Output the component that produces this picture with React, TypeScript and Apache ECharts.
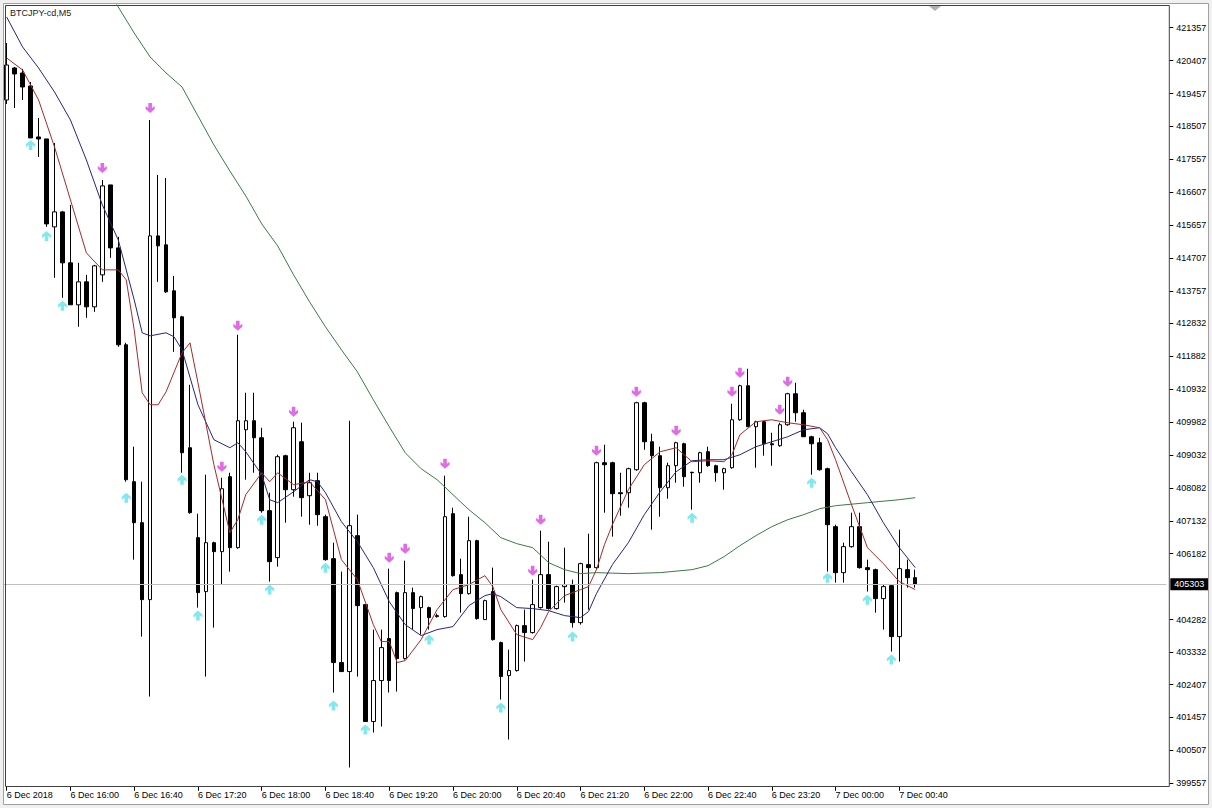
import React, { useEffect, useRef } from "react";
import * as echarts from "echarts";

// OHLC per 5-minute bar, starting 6 Dec 2018 15:20
const opens = [
  419272, 420195, 420050, 419676, 418205, 418148, 415611, 416043, 414573, 413362,
  414025, 413304, 414227, 416821, 415005, 412209, 408259, 407077, 404857, 415351,
  415092, 413765, 413016, 409239, 406644, 405088, 406500, 406241, 408403, 406356,
  409758, 410018, 409527, 407423, 406068, 409009, 408028, 409412, 407855, 408288,
  407250, 406039, 403041, 402781, 406702, 404713, 401340, 402522, 403733, 405059,
  403156, 405059, 404626, 404626, 404367, 404367, 407336, 405578, 405030, 406558,
  404280, 405088, 403617, 402666, 402810, 404107, 403906, 404626, 405578, 404598,
  405232, 405289, 404194, 405866, 405780, 408807, 408807, 407942, 407942, 408605,
  410537, 409412, 409009, 408086, 408720, 409354, 408530, 408518, 409124, 408720,
  408518, 408663, 410046, 411027, 409845, 409989, 409354, 409297, 409902, 410796,
  410248, 409556, 409383, 408634, 406962, 405635, 406385, 406962, 405780, 405722,
  404886, 405261, 403790, 405722, 405491,
];
const closes = [
  420281, 420022, 419647, 418177, 418148, 415697, 416043, 414573, 413362, 414025,
  413304, 414486, 416793, 415005, 412209, 408317, 407077, 404857, 415351, 415063,
  413737, 412987, 409095, 407365, 405059, 406500, 406241, 408057, 406356, 410018,
  410018, 409527, 407423, 405953, 408980, 408028, 409816, 407798, 408230, 407308,
  406010, 403041, 402781, 406990, 404684, 401340, 402522, 403473, 402522, 403156,
  405059, 404598, 404943, 404338, 404396, 407250, 405549, 405030, 406558, 404309,
  404828, 403704, 402637, 402810, 404107, 403906, 404713, 405578, 404598, 405232,
  405289, 404194, 405895, 405780, 408807, 408749, 407913, 407913, 408634, 410537,
  409412, 409009, 408086, 408720, 409383, 408403, 408518, 409095, 408720, 408518,
  408634, 410046, 411027, 409845, 409989, 409354, 409326, 409902, 410796, 410248,
  409556, 409354, 408605, 407019, 405635, 406385, 406962, 405780, 405722, 404886,
  405232, 403790, 405751, 405491, 405303,
];
const lows = [
  419157, 419041, 419272, 418177, 417629, 415611, 414140, 413564, 413362, 412728,
  412987, 413160, 414025, 414717, 412151, 408259, 406010, 403790, 402060, 414025,
  413708, 412007, 408518, 407336, 404626, 402637, 404050, 405289, 405664, 406327,
  408317, 408518, 407365, 405376, 405808, 407077, 407826, 407250, 407019, 406990,
  405981, 402176, 402781, 400014, 402637, 401340, 401023, 401196, 402176, 402205,
  403127, 403992, 403848, 403992, 404338, 404338, 405520, 404482, 405001, 404280,
  404280, 403675, 401974, 400821, 402781, 403070, 403877, 404598, 404569, 404569,
  404771, 404050, 404136, 404569, 405722, 407365, 406673, 407279, 407509, 408576,
  409181, 406875, 407250, 407769, 408230, 408115, 407452, 408230, 408691, 408259,
  408028, 408634, 410018, 409845, 408663, 409009, 408720, 409268, 409873, 409989,
  409556, 408461, 408576, 405664, 405347, 405347, 406356, 405751, 405088, 404482,
  403992, 403358, 403070, 405203, 405203,
];
const highs = [
  420915, 420223, 420166, 419791, 418753, 418148, 418032, 416072, 416245, 414573,
  414227, 414515, 416966, 416821, 415322, 412266, 409268, 408259, 418695, 417110,
  417023, 414198, 413045, 411055, 407336, 408461, 406529, 408374, 408518, 412497,
  410825, 410825, 409816, 407942, 409037, 409037, 409989, 409960, 408518, 408518,
  407308, 406500, 405664, 410018, 407308, 404713, 403992, 403992, 405751, 405088,
  405981, 405203, 404972, 404655, 404453, 408432, 407509, 406039, 407250, 406587,
  404857, 405780, 403646, 403415, 404136, 404569, 405434, 406846, 406529, 405261,
  406356, 405434, 405924, 406760, 408836, 409326, 408836, 408518, 408663, 410565,
  410565, 409643, 409268, 408807, 409412, 409383, 408547, 409124, 409268, 408749,
  408663, 410508, 411056, 411517, 410018, 410018, 409672, 409960, 410825, 411113,
  410335, 409585, 409527, 408663, 407019, 406500, 407365, 407365, 406010, 405751,
  405289, 405289, 406875, 406010, 405722,
];

// moving averages: [bar index, price]
const maFast = [
  [0, 420483], [2, 420137], [4, 419272], [6, 417917], [8, 416389], [10, 414861],
  [12, 414371], [14, 414371], [15, 414083], [16, 412641], [17, 410825], [18, 410479],
  [19, 410479], [20, 410854], [22, 411978], [23, 412266], [24, 411113], [26, 408749],
  [28, 406789], [29, 407164], [30, 407884], [32, 408518], [33, 408259], [34, 408518],
  [36, 408172], [38, 408259], [40, 407740], [41, 406875], [42, 406010], [44, 405434],
  [46, 404136], [47, 403646], [48, 403646], [49, 403041], [50, 403098], [52, 403704],
  [54, 404569], [56, 405146], [58, 405289], [60, 405549], [61, 405232], [62, 404569],
  [64, 403848], [66, 403704], [67, 404050], [68, 404511], [70, 404972], [72, 405146],
  [73, 405232], [74, 405722], [75, 406442], [76, 407019], [78, 408028], [80, 408749],
  [82, 409124], [84, 409239], [86, 408836], [88, 408864], [90, 408836], [91, 409037],
  [92, 409614], [94, 409989], [96, 410046], [98, 409960], [100, 409902], [102, 409816],
  [103, 409470], [104, 408893], [106, 407596], [108, 406356], [110, 405895], [112, 405376],
  [114, 405146],
];
const maMid = [
  [0, 421665], [2, 420800], [4, 420195], [6, 419503], [8, 418695], [10, 417542],
  [12, 416245], [14, 415236], [16, 413506], [17, 412555], [18, 412468], [20, 412555],
  [21, 412439], [22, 412065], [24, 410479], [26, 409470], [28, 409239], [29, 409383],
  [30, 409124], [32, 408461], [33, 407740], [34, 407654], [36, 407970], [38, 408317],
  [39, 408259], [40, 407942], [42, 407106], [44, 406529], [46, 405780], [48, 404799],
  [50, 404136], [52, 403819], [54, 403992], [56, 404079], [58, 404684], [60, 404972],
  [61, 405030], [62, 404943], [64, 404626], [66, 404598], [68, 404540], [70, 404396],
  [72, 404338], [73, 404511], [74, 405030], [76, 405866], [78, 406500], [80, 407308],
  [82, 407970], [84, 408547], [86, 408864], [88, 408893], [90, 408893], [92, 409037],
  [94, 409268], [96, 409412], [98, 409556], [100, 409758], [102, 409816], [103, 409643],
  [104, 409239], [106, 408547], [108, 407884], [110, 407077], [112, 406356], [114, 405780],
];
const maSlow = [
  [12, 422703], [14, 421953], [16, 421204], [18, 420512], [20, 420051], [22, 419647],
  [24, 418811], [26, 417975], [28, 417225], [30, 416504], [32, 415697], [34, 415063],
  [36, 414227], [38, 413449], [40, 412728], [42, 412065], [44, 411430], [46, 410623],
  [48, 409845], [50, 409095], [52, 408634], [54, 408317], [56, 407884], [58, 407452],
  [60, 407077], [62, 406645], [64, 406472], [66, 406356], [68, 405924], [70, 405722],
  [72, 405607], [74, 405636], [78, 405607], [82, 405636], [86, 405722], [88, 405837],
  [90, 406096], [92, 406414], [94, 406702], [96, 406962], [98, 407163], [100, 407308],
  [102, 407481], [104, 407567], [108, 407654], [112, 407740], [114, 407798],
];

// signal arrows: [bar index, price]
const sellArrows = [
  [12, 417312], [18, 419041], [27, 408692], [29, 412756], [36, 410277], [48, 406068],
  [50, 406327], [55, 408778], [66, 405693], [67, 407164], [74, 409153], [79, 410854],
  [84, 409730], [91, 410854], [92, 411401], [97, 410335], [98, 411142],
];
const buyArrows = [
  [3, 417975], [5, 415351], [7, 413333], [15, 407798], [22, 408317], [24, 404396],
  [32, 407164], [33, 405146], [40, 405780], [41, 401801], [45, 401109], [53, 403704],
  [62, 401744], [71, 403790], [86, 407221], [101, 408230], [103, 405491], [108, 404857],
  [111, 403127],
];

const xTickLabels = [
  "6 Dec 2018", "6 Dec 16:00", "6 Dec 16:40", "6 Dec 17:20", "6 Dec 18:00",
  "6 Dec 18:40", "6 Dec 19:20", "6 Dec 20:00", "6 Dec 20:40", "6 Dec 21:20",
  "6 Dec 22:00", "6 Dec 22:40", "6 Dec 23:20", "7 Dec 00:00", "7 Dec 00:40",
];
const yTickValues = [
  421357, 420407, 419457, 418507, 417557, 416607, 415657, 414707, 413757, 412832,
  411882, 410932, 409982, 409032, 408082, 407132, 406182, 404282, 403332, 402407,
  401457, 400507, 399557,
];
const currentPrice = 405303;
const symbolName = "BTCJPY-cd,M5";

const SLOTS = 146;
const FONT = "'Liberation Sans', Arial, sans-serif";
const DOWN_ARROW = "path://M3,0 L7,0 L7,5 L10,3 L10,6 L5,10 L0,6 L0,3 L3,5 Z";
const UP_ARROW = "path://M5,0 L10,4 L10,7 L7,5 L7,10 L3,10 L3,5 L0,7 L0,4 Z";

export default function App() {
  const ref = useRef<HTMLDivElement>(null);
  useEffect(() => {
    const chart = echarts.init(ref.current!, null, { renderer: "svg" });
    const categories = Array.from({ length: SLOTS }, (_, i) => {
      const t = 15 * 60 + 20 + 5 * i;
      const h = Math.floor(t / 60) % 24;
      const m = t % 60;
      return `${String(h).padStart(2, "0")}:${String(m).padStart(2, "0")}`;
    });
    const candles = opens.map((o, i) => [o, closes[i], lows[i], highs[i]]);
    const showTick = (i: number) => i % 8 === 0 && i / 8 < xTickLabels.length;

    chart.setOption({
      animation: false,
      backgroundColor: "#ffffff",
      grid: { left: 2.7, top: 5, width: 1163.6, height: 781.7, containLabel: false },
      xAxis: {
        type: "category",
        data: categories,
        boundaryGap: true,
        axisLine: { show: false },
        axisTick: {
          show: true,
          alignWithLabel: true,
          interval: (i: number) => showTick(i),
          length: 4,
          lineStyle: { color: "#000" },
        },
        axisLabel: {
          interval: (i: number) => showTick(i),
          formatter: (_v: string, i: number) => xTickLabels[i / 8] ?? "",
          align: "left",
          margin: 4,
          fontSize: 9,
          color: "#000",
          fontFamily: FONT,
        },
        splitLine: { show: false },
      },
      yAxis: {
        type: "value",
        position: "right",
        offset: 3,
        min: 399460,
        max: 422012,
        axisLine: { show: false },
        axisTick: {
          show: true,
          customValues: yTickValues,
          length: 4,
          lineStyle: { color: "#000" },
        },
        axisLabel: {
          customValues: yTickValues,
          formatter: (v: number) => String(v),
          fontSize: 9,
          color: "#000",
          margin: 7,
          fontFamily: FONT,
        },
        splitLine: { show: false },
      },
      series: [
        {
          type: "candlestick",
          data: candles,
          barWidth: 4,
          z: 3,
          itemStyle: {
            color: "#ffffff",
            color0: "#000000",
            borderColor: "#000000",
            borderColor0: "#000000",
            borderWidth: 1,
          },
          markLine: {
            silent: true,
            symbol: ["none", "none"],
            data: [{ yAxis: currentPrice }],
            lineStyle: { color: "#c0c0c0", width: 1, type: "solid" },
            label: {
              show: true,
              position: "end",
              distance: 4,
              formatter: String(currentPrice),
              backgroundColor: "#000",
              color: "#fff",
              padding: [2, 4, 1, 4],
              fontSize: 9,
              fontFamily: FONT,
            },
          },
        },
        {
          type: "line",
          data: maSlow,
          symbol: "none",
          z: 4,
          lineStyle: { color: "#3d7a45", width: 1 },
        },
        {
          type: "line",
          data: maMid,
          symbol: "none",
          z: 4,
          lineStyle: { color: "#25257d", width: 1 },
        },
        {
          type: "line",
          data: maFast,
          symbol: "none",
          z: 4,
          lineStyle: { color: "#a52a2a", width: 1 },
        },
        {
          type: "scatter",
          data: sellArrows,
          symbol: DOWN_ARROW,
          symbolSize: [9, 10],
          z: 5,
          itemStyle: { color: "#d946e1" },
        },
        {
          type: "scatter",
          data: buyArrows,
          symbol: UP_ARROW,
          symbolSize: [9, 10],
          z: 5,
          itemStyle: { color: "#62e4ea" },
        },
      ],
      graphic: [
        {
          type: "rect",
          z: 20,
          silent: true,
          shape: { x: 0, y: 0, width: 1212, height: 808 },
          style: { fill: "none", stroke: "#f0f0f0", lineWidth: 7 },
        },
        {
          type: "rect",
          z: 20,
          silent: true,
          shape: { x: 3.5, y: 3.5, width: 1205, height: 801 },
          style: { fill: "none", stroke: "#a0a0a0", lineWidth: 1 },
        },
        {
          type: "rect",
          z: 20,
          silent: true,
          shape: { x: 5.5, y: 5.5, width: 1163.8, height: 781 },
          style: { fill: "none", stroke: "#404040", lineWidth: 1 },
        },
        {
          type: "polygon",
          z: 20,
          silent: true,
          shape: { points: [[929, 6], [941, 6], [935, 11]] },
          style: { fill: "#b0b0b0" },
        },
        {
          type: "text",
          z: 20,
          silent: true,
          x: 10,
          y: 8,
          style: { text: symbolName, fill: "#222", fontSize: 9, fontFamily: FONT },
        },
      ],
    });
    return () => chart.dispose();
  }, []);
  return (
    <div
      ref={ref}
      style={{ position: "fixed", left: 0, top: 0, width: 1212, height: 808 }}
    />
  );
}
